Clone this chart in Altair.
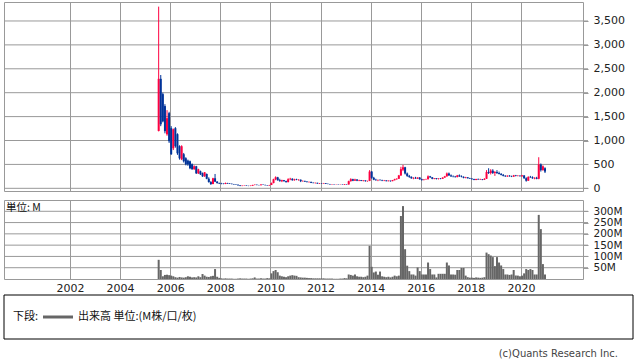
import altair as alt
import pandas as pd

# ---- monthly data, first month = 2005-07 ----
start_month = "2005-07"

opens = [
    1200, 2290, 1970, 1720, 1130, 1572,
    1258, 838, 1258, 1132, 880, 608, 713, 629, 580, 566, 503, 398,
    461, 314, 356, 314, 251, 300, 200, 130, 90, 210, 140, 110,
    100, 95, 90, 110, 100, 95, 88, 80, 75, 62, 50, 55,
    58, 50, 48, 55, 70, 75, 68, 65, 78, 72, 65, 60,
    70, 110, 190, 230, 170, 150, 170, 150, 130, 190, 200, 170,
    185, 175, 180, 150, 155, 140, 130, 135, 115, 110, 115, 100,
    105, 100, 108, 95, 90, 82, 85, 80, 82, 78, 80, 75,
    85, 80, 150, 190, 160, 185, 160, 170, 155, 165, 150, 155,
    350, 220, 180, 170, 175, 170, 160, 165, 150, 160, 150, 170,
    190, 200, 270, 390, 440, 310, 260, 240, 210, 220, 205, 225,
    190, 175, 185, 190, 250, 230, 200, 210, 195, 205, 200, 225,
    250, 310, 270, 250, 245, 235, 270, 250, 240, 220, 230, 210,
    200, 190, 175, 195, 185, 190, 180, 200, 340, 320, 370, 320,
    340, 320, 300, 280, 260, 250, 265, 250, 245, 270, 260, 265,
    255, 270, 210, 160, 240, 230, 210, 220, 200, 500, 380, 420,
]
highs = [
    3800, 2370, 2000, 1760, 1635, 1600,
    1300, 1250, 1280, 1150, 900, 900, 740, 650, 600, 580, 520, 480,
    470, 410, 370, 330, 340, 310, 230, 150, 220, 300, 150, 120,
    115, 105, 120, 115, 110, 100, 92, 85, 80, 65, 60, 62,
    60, 55, 58, 75, 80, 78, 72, 82, 80, 75, 68, 72,
    120, 200, 250, 240, 200, 180, 175, 160, 210, 220, 210, 200,
    200, 190, 185, 165, 160, 150, 140, 138, 125, 120, 118, 110,
    110, 112, 110, 98, 92, 88, 88, 85, 84, 82, 82, 90,
    90, 160, 210, 200, 200, 190, 180, 175, 170, 168, 160, 380,
    360, 240, 200, 185, 190, 180, 175, 170, 165, 162, 175, 200,
    210, 280, 450, 490, 450, 330, 280, 250, 230, 240, 230, 235,
    200, 190, 200, 270, 260, 235, 215, 215, 210, 215, 230, 260,
    330, 330, 290, 270, 260, 280, 290, 270, 250, 240, 235, 220,
    215, 200, 200, 205, 200, 195, 210, 380, 420, 400, 400, 360,
    380, 350, 320, 300, 275, 270, 275, 265, 280, 280, 275, 270,
    280, 275, 230, 250, 260, 250, 230, 240, 650, 520, 480, 440,
]
lows = [
    1190, 1300, 1380, 1150, 1100, 950,
    700, 800, 850, 700, 600, 590, 540, 480, 470, 400, 390, 390,
    300, 300, 280, 240, 240, 190, 120, 70, 85, 130, 100, 90,
    85, 85, 88, 95, 90, 85, 78, 70, 60, 45, 45, 50,
    48, 45, 46, 54, 65, 65, 62, 64, 70, 62, 55, 58,
    68, 105, 170, 160, 140, 130, 140, 120, 125, 170, 160, 160,
    170, 160, 130, 140, 135, 125, 120, 110, 105, 100, 95, 92,
    95, 98, 90, 85, 80, 75, 78, 76, 75, 74, 72, 74,
    78, 78, 140, 150, 155, 150, 150, 150, 145, 140, 140, 150,
    200, 170, 160, 150, 165, 150, 150, 145, 145, 140, 148, 165,
    180, 195, 260, 360, 290, 240, 220, 200, 190, 200, 195, 180,
    160, 165, 180, 185, 220, 190, 190, 185, 185, 190, 195, 220,
    245, 260, 240, 230, 225, 230, 240, 230, 210, 210, 205, 195,
    185, 170, 170, 180, 175, 170, 175, 195, 300, 290, 300, 260,
    300, 290, 270, 250, 240, 240, 245, 235, 240, 250, 250, 245,
    240, 200, 140, 155, 220, 200, 190, 190, 190, 350, 370, 320,
]
closes = [
    2290, 1340, 1400, 1195, 1467, 985,
    713, 1236, 880, 734, 629, 880, 566, 503, 500, 419, 398, 461,
    314, 398, 293, 251, 335, 200, 130, 90, 210, 140, 110, 100,
    95, 90, 110, 100, 95, 88, 80, 75, 62, 50, 55, 58,
    50, 48, 55, 70, 75, 68, 65, 78, 72, 65, 60, 70,
    110, 190, 230, 170, 150, 170, 150, 130, 190, 200, 170, 185,
    175, 180, 150, 155, 140, 130, 135, 115, 110, 115, 100, 105,
    100, 108, 95, 90, 82, 85, 80, 82, 78, 80, 75, 85,
    80, 150, 190, 160, 185, 160, 170, 155, 165, 150, 155, 350,
    220, 180, 170, 175, 170, 160, 165, 150, 160, 150, 170, 190,
    200, 270, 400, 440, 310, 260, 240, 210, 220, 205, 225, 190,
    175, 185, 190, 250, 230, 200, 210, 195, 205, 200, 225, 250,
    310, 270, 250, 245, 235, 270, 250, 240, 220, 230, 210, 200,
    190, 175, 195, 185, 190, 180, 200, 340, 320, 370, 320, 340,
    320, 300, 280, 260, 250, 265, 250, 245, 270, 260, 265, 255,
    270, 210, 160, 240, 230, 210, 220, 200, 500, 380, 460, 350,
]
volumes_m = [
    85, 40, 12, 18, 19, 17,
    15, 12, 8, 6, 9, 7, 6, 8, 12, 10, 7, 8,
    7, 12, 8, 22, 15, 10, 9, 12, 14, 44, 10, 5,
    3, 2, 3, 2, 2, 2, 1, 1, 2, 3, 2, 2,
    2, 1, 2, 3, 7, 2, 2, 3, 2, 2, 4, 3,
    25, 35, 40, 30, 15, 12, 10, 8, 12, 15, 17, 15,
    14, 8, 7, 6, 6, 5, 4, 4, 3, 3, 3, 3,
    3, 3, 2, 2, 2, 2, 1, 1, 1, 2, 2, 4,
    3, 20, 18, 15, 20, 12, 10, 10, 8, 10, 15, 147,
    54, 29, 33, 19, 33, 12, 10, 8, 10, 7, 10, 15,
    12, 15, 279, 323, 132, 59, 35, 20, 20, 15, 51, 35,
    20, 20, 20, 73, 44, 20, 20, 7, 23, 23, 23, 23,
    73, 60, 20, 20, 19, 40, 40, 49, 49, 15, 8, 6,
    6, 5, 7, 6, 5, 6, 8, 117, 110, 104, 97, 57,
    97, 73, 60, 44, 20, 20, 18, 20, 40, 15, 15, 12,
    15, 25, 44, 40, 44, 40, 20, 20, 284, 221, 66, 20,
]

year_ticks = [2002, 2004, 2006, 2008, 2010, 2012, 2014, 2016, 2018, 2020]
price_ticks = [0, 500, 1000, 1500, 2000, 2500, 3000, 3500]
volume_ticks = [50, 100, 150, 200, 250, 300]

unit_label = "単位: M"
legend_prefix = "下段:"
legend_label = "出来高 単位:(M株/口/枚)"
copyright_text = "(c)Quants Research Inc."

# ---- tables ----
months = pd.period_range(start_month, periods=len(closes), freq="M")
df = pd.DataFrame({
    "t": [p.year + (p.month - 0.5) / 12 for p in months],
    "open": opens, "high": highs, "low": lows, "close": closes,
    "volume": volumes_m,
})
df["dir"] = ["up" if c >= o else "down" for o, c in zip(opens, closes)]
price_grid = pd.DataFrame({"v": price_ticks})
vol_grid = pd.DataFrame({"v": volume_ticks})

RED = "#ff0040"
BLUE = "#003399"
GRID = "#999999"
FONT = "DejaVu Sans"
CJK = "Noto Sans CJK JP"

xscale = alt.Scale(domain=[1999.569, 2022.275], nice=False, zero=False)
pscale = alt.Scale(domain=[-56, 3897], nice=False, zero=False)
vscale = alt.Scale(domain=[0, 350], nice=False, zero=False)
color = alt.Color("dir:N", scale=alt.Scale(domain=["up", "down"], range=[RED, BLUE]), legend=None)

x_up_axis = alt.Axis(values=year_ticks, labels=False, ticks=False, domain=False,
                     grid=True, title=None)
p_axis = alt.Axis(orient="right", values=price_ticks, format=",d", title=None,
                  domain=False, grid=False, labelOverlap=False)

pgrid = alt.Chart(price_grid).mark_rule(color=GRID, strokeWidth=1, opacity=1).encode(
    x=alt.value(0), x2=alt.value(584),
    y=alt.Y("v:Q", scale=pscale, axis=p_axis))
wick = alt.Chart(df).mark_rule(strokeWidth=1).encode(
    x=alt.X("t:Q", scale=xscale, axis=x_up_axis),
    y=alt.Y("low:Q", scale=pscale, axis=p_axis), y2="high:Q", color=color)
body = alt.Chart(df).mark_bar(size=2).encode(
    x=alt.X("t:Q", scale=xscale, axis=x_up_axis),
    y=alt.Y("open:Q", scale=pscale, axis=p_axis), y2="close:Q", color=color)
upper = alt.layer(pgrid, wick, body).properties(width=579, height=189)

x_low_axis = alt.Axis(values=year_ticks, format="d", ticks=False, domain=False,
                      labelPadding=3, grid=True, title=None, labelOverlap=False)
v_axis = alt.Axis(orient="right", values=volume_ticks, labelExpr="datum.value + 'M'",
                  title=None, domain=False, grid=False, labelOverlap=False,
                  labelFontSize=10.5)

vgrid = alt.Chart(vol_grid).mark_rule(color=GRID, strokeWidth=1, opacity=1).encode(
    x=alt.value(0), x2=alt.value(584),
    y=alt.Y("v:Q", scale=vscale, axis=v_axis))
vol_bars = alt.Chart(df).mark_bar(size=2, color="#666666").encode(
    x=alt.X("t:Q", scale=xscale, axis=x_low_axis),
    y=alt.Y("volume:Q", scale=vscale, axis=v_axis))

one = pd.DataFrame({"unit": [unit_label], "pre": [legend_prefix], "lab": [legend_label],
                    "copy": [copyright_text]})
unit_text = alt.Chart(one).mark_text(align="left", baseline="middle", font=CJK, fontSize=10.5,
                                     color="#111").encode(
    x=alt.value(2), y=alt.value(8), text="unit:N")
legend_box = alt.Chart(one).mark_rect(fill="white", stroke="black", strokeWidth=1).encode(
    x=alt.value(0), x2=alt.value(629), y=alt.value(95), y2=alt.value(139))
legend_line = alt.Chart(one).mark_rule(color="#666666", strokeWidth=3).encode(
    x=alt.value(39), x2=alt.value(69), y=alt.value(117))
legend_pre = alt.Chart(one).mark_text(align="left", baseline="middle", font=CJK, fontSize=11,
                                      color="#111").encode(
    x=alt.value(9), y=alt.value(117), text="pre:N")
legend_lab = alt.Chart(one).mark_text(align="left", baseline="middle", font=CJK, fontSize=11,
                                      color="#111").encode(
    x=alt.value(74), y=alt.value(117), text="lab:N")
copy_txt = alt.Chart(one).mark_text(align="right", baseline="middle", font=FONT, fontSize=10,
                                    color="#444").encode(
    x=alt.value(614), y=alt.value(154), text="copy:N")

lower = alt.layer(vgrid, vol_bars, unit_text, legend_box, legend_line, legend_pre, legend_lab,
                  copy_txt).properties(width=579, height=79)

chart = alt.vconcat(upper, lower, spacing=5).properties(
    padding={"left": 3, "top": 1, "right": 0, "bottom": 0},
    background="white",
).configure_view(stroke=GRID, strokeWidth=1).configure_axis(
    gridColor=GRID, gridWidth=1, gridOpacity=1, tickColor=GRID, tickSize=5, labelPadding=5,
    labelFont=FONT, labelFontSize=11, labelColor="#222",
).configure_axisX(labelPadding=3)

chart.save("out.html", embed_options={"renderer": "svg", "actions": False})
